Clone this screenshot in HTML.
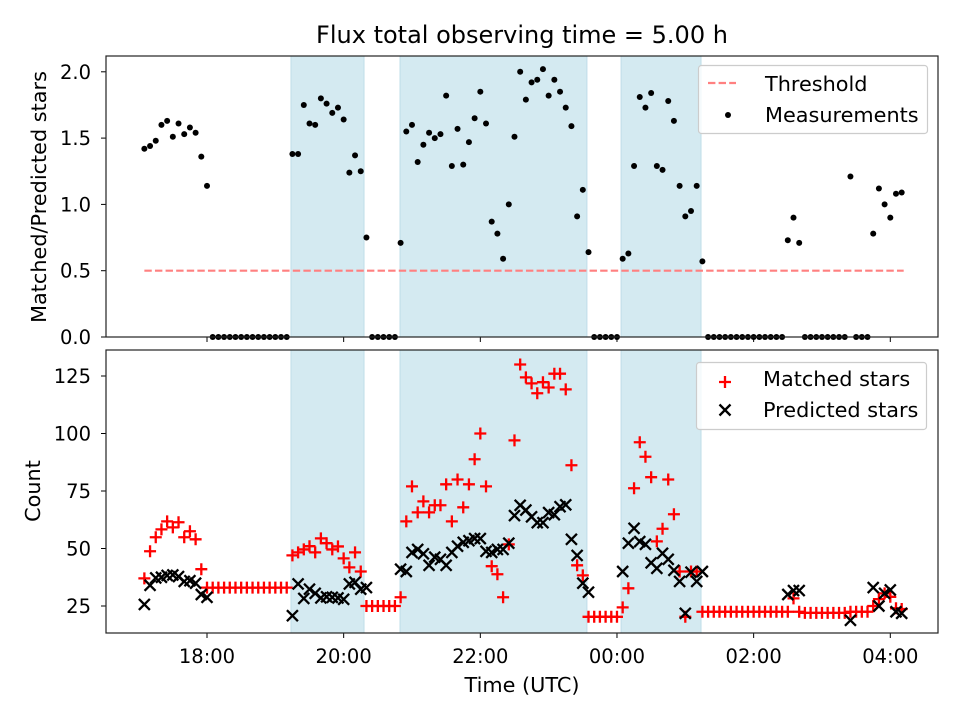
<!DOCTYPE html>
<html><head><meta charset="utf-8"><style>
body{margin:0;background:#fff;}
svg{display:block;font-family:"DejaVu Sans","Liberation Sans",sans-serif;}
</style></head><body>
<svg id="chart" width="960" height="720" viewBox="0 0 960 720" xmlns="http://www.w3.org/2000/svg">
<rect width="960" height="720" fill="#fff"/>
<text x="522" y="43" font-size="24" text-anchor="middle">Flux total observing time = 5.00 h</text>
<g id="top"></g><g id="bot"></g>
</svg>
<script>
const startMinutes = 17*60+5;
const stepMinutes = 5;
const ratio = [1.42,1.44,1.48,1.60,1.63,1.51,1.61,1.53,1.58,1.54,1.36,1.14,
0,0,0,0,0,0,0,0,0,0,0,0,0,0,
1.38,1.38,1.75,1.61,1.60,1.80,1.76,1.69,1.73,1.64,1.24,1.37,1.25,0.75,
0,0,0,0,0,
0.71,1.55,1.60,1.32,1.45,1.54,1.50,1.53,1.82,1.29,1.57,1.30,1.47,1.65,1.85,1.61,0.87,0.78,0.59,1.00,1.51,2.00,1.79,1.92,1.94,2.02,1.82,1.94,1.85,1.73,1.59,0.91,1.11,0.64,
0,0,0,0,0,
0.59,0.63,1.29,1.81,1.73,1.84,1.29,1.26,1.78,1.63,1.14,0.91,0.95,1.14,0.57,
0,0,0,0,0,0,0,0,0,0,0,0,0,0,
0.73,0.90,0.71,
0,0,0,0,0,0,0,0,
1.21,
0,0,0,
0.78,1.12,1.00,0.90,1.08,1.09];
const matched = [37,48.8,54.9,58.3,61.8,59.2,61.4,54.9,57.5,54,41,33,
33,33,33,33,33,33,33,33,33,33,33,33,33,33,
47,48.3,49.6,51,48.3,54.4,52.3,49.6,50.9,45.7,41.8,48.3,40,25,
25,25,25,25,25,
28.8,61.8,77,65.7,70.5,65.7,68.8,68.8,77.9,61.8,80,67.9,77.9,88.8,100,77,42.3,38.8,28.8,51.8,97,130,124.4,121.8,117.5,122.3,120,126,126,119.2,86.2,42.7,38.3,20.3,
20.3,20.3,20.3,20.3,20.3,
24.4,32.7,76.2,96.2,89.9,81,53.1,58.6,80,64.9,40,20.3,40,40,22.5,
22.5,22.5,22.5,22.5,22.5,22.5,22.5,22.5,22.5,22.5,22.5,22.5,22.5,22.5,
22.5,28.3,22.5,
22,22,22,22,22,22,22,22,
22.5,
22.5,22.5,22.5,
25,28,30.5,29,24,23.7];
const predicted = [25.7,34,37.2,37.5,38.3,38.5,37.8,35.7,36,34.9,30,28.8,
null,null,null,null,null,null,null,null,null,null,null,null,null,null,
20.8,34.6,28.3,32.3,30.5,28.5,29,28.8,28.5,27.9,34.6,35.3,32.3,33,
null,null,null,null,null,
41,40,48.3,49.6,47.7,42.7,46.2,45.3,42.7,48.3,51,52.7,53.4,54.3,54.3,48.8,48.3,49.6,49.6,52.3,64.3,68.8,66.7,63.8,61.2,61.2,65.6,64.7,68.2,69,54,47,34.9,31,
null,null,null,null,null,
40,52.3,58.8,53,51.8,43.8,41.4,47.9,45.3,40.5,35.7,21.8,39.7,35.7,40,
null,null,null,null,null,null,null,null,null,null,null,null,null,null,
30,31.7,31.7,
null,null,null,null,null,null,null,null,
18.8,
null,null,null,
33,25,30.5,32,22.5,21.8];
const spanStarts = [19.229, 20.825, 24.06];
const spanEnds = [20.298, 23.56, 25.23];
const xTickHours = [18,20,22,24,26,28];
const xTickLabels = ["18:00","20:00","22:00","00:00","02:00","04:00"];
const topTicks = [0,0.5,1.0,1.5,2.0];
const topTickLabels = ["0.0","0.5","1.0","1.5","2.0"];
const botTicks = [25,50,75,100,125];
const threshold = 0.5;

const NS="http://www.w3.org/2000/svg";
const L=106,R=938;
const TF=19.5, LF=20.8;
const X=h=>207+(h-18)*68.33;
const YT=v=>337-v*132.6;
const YB=v=>606-(v-25)*2.3;
function mk(parent,tag,attrs){const e=document.createElementNS(NS,tag);for(const k in attrs)e.setAttribute(k,attrs[k]);parent.appendChild(e);return e;}
function hourOf(i){return (startMinutes+i*stepMinutes)/60;}

function drawAxes(g,top,bottom,ticks,labels,Y,isBottom){
  for(let i=0;i<spanStarts.length;i++){
    const r=mk(g,'rect',{x:X(spanStarts[i]),y:top,width:X(spanEnds[i])-X(spanStarts[i]),height:bottom-top,fill:'#d4eaf1',stroke:'#bfdde8','stroke-width':1});
    
    
  }
  ticks.forEach((t,i)=>{
    const y=Y(t);
    const l=mk(g,'line',{x1:L-5,x2:L,y1:y,y2:y,stroke:'#000','stroke-width':1});
    
    
    const tx=mk(g,'text',{x:L-15,y:y+7,'font-size':TF,'text-anchor':'end'});
    tx.textContent=labels[i];
    
    
  });
  xTickHours.forEach((h,i)=>{
    const x=X(h);
    const l=mk(g,'line',{x1:x,x2:x,y1:bottom,y2:bottom+5,stroke:'#000','stroke-width':1});
    
    
    if(isBottom){
      const tx=mk(g,'text',{x:x,y:bottom+30,'font-size':TF,'text-anchor':'middle'});
      tx.textContent=xTickLabels[i];
      
      
    }
  });
}
function frame(g,top,bottom){
  const f=mk(g,'rect',{x:L,y:top,width:R-L,height:bottom-top,fill:'none',stroke:'#222','stroke-width':1.2});
  
  
}

const gt=document.getElementById('top');


drawAxes(gt,56,337,topTicks,topTickLabels,YT,false);
const th=mk(gt,'line',{x1:X(hourOf(0)),x2:X(hourOf(ratio.length-1))+2,y1:YT(threshold),y2:YT(threshold),stroke:'#ff8080','stroke-width':2.2,'stroke-dasharray':'7.4,3.2'});


ratio.forEach((v,i)=>{
  const c=mk(gt,'circle',{cx:X(hourOf(i)),cy:YT(v),r:3,fill:'#000'});
  
  
});
frame(gt,56,337);

const gb=document.getElementById('bot');


drawAxes(gb,350,633,botTicks,botTicks.map(String),YB,true);
function plus(g,x,y){return mk(g,'path',{d:`M${x-6},${y}H${x+6}M${x},${y-6}V${y+6}`,stroke:'#f00','stroke-width':2.3,fill:'none'});}
function cross(g,x,y){return mk(g,'path',{d:`M${x-5.5},${y-5.5}L${x+5.5},${y+5.5}M${x-5.5},${y+5.5}L${x+5.5},${y-5.5}`,stroke:'#000','stroke-width':2.3,fill:'none'});}
matched.forEach((v,i)=>{
  if(v==null)return;
  const p=plus(gb,X(hourOf(i)),YB(v));
  
  
});
predicted.forEach((v,i)=>{
  if(v==null)return;
  const p=cross(gb,X(hourOf(i)),YB(v));
  
  
});
frame(gb,350,633);

const lg1=mk(gt,'g',{});


mk(lg1,'rect',{x:698.5,y:65.5,width:229,height:68,rx:3,fill:'#fff','fill-opacity':0.8,stroke:'#ccc','stroke-width':1.2});
mk(lg1,'line',{x1:708,x2:736,y1:83,y2:83,stroke:'#ff8080','stroke-width':2.2,'stroke-dasharray':'7.4,3.2'});
let t=mk(lg1,'text',{x:765,y:91,'font-size':LF});t.textContent='Threshold';
mk(lg1,'circle',{cx:728,cy:115,r:3,fill:'#000'});
t=mk(lg1,'text',{x:765,y:122,'font-size':LF});t.textContent='Measurements';

const lg2=mk(gb,'g',{});


mk(lg2,'rect',{x:696.5,y:362.5,width:230,height:67,rx:3,fill:'#fff','fill-opacity':0.8,stroke:'#ccc','stroke-width':1.2});
plus(lg2,725,382);
t=mk(lg2,'text',{x:763,y:386,'font-size':LF});t.textContent='Matched stars';
cross(lg2,725,410);
t=mk(lg2,'text',{x:763,y:417,'font-size':LF});t.textContent='Predicted stars';

const svg=document.getElementById('chart');
t=mk(svg,'text',{x:522,y:692,'font-size':LF,'text-anchor':'middle'});t.textContent='Time (UTC)';


t=mk(svg,'text',{x:0,y:0,'font-size':LF,'text-anchor':'middle',transform:'translate(46,197) rotate(-90)'});t.textContent='Matched/Predicted stars';


t=mk(svg,'text',{x:0,y:0,'font-size':LF,'text-anchor':'middle',transform:'translate(40,491) rotate(-90)'});t.textContent='Count';


</script>
</body></html>
